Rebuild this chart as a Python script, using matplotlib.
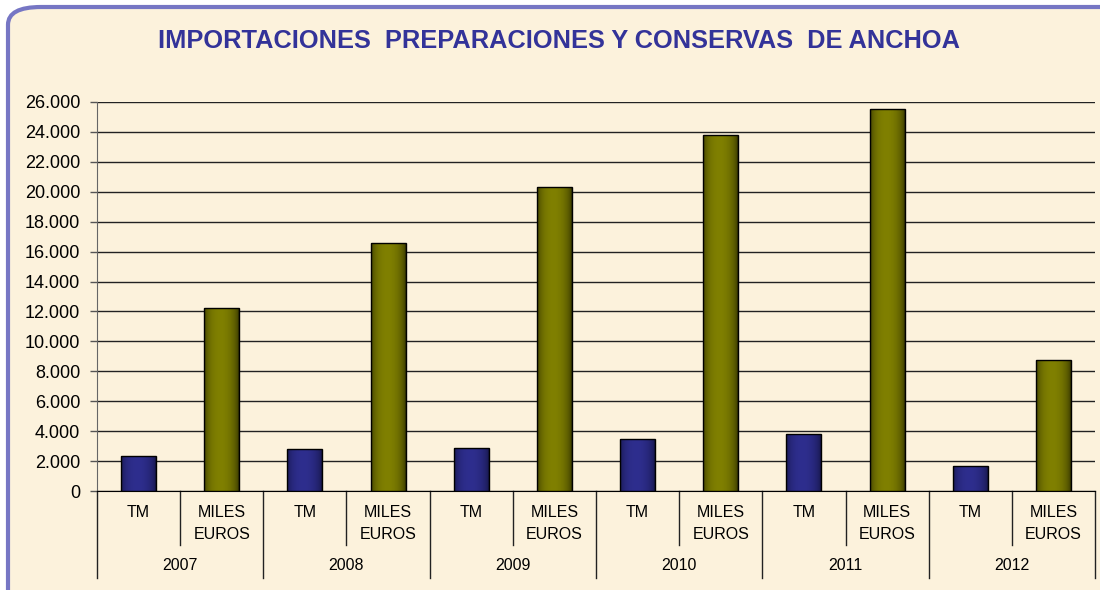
import numpy as np
import matplotlib
matplotlib.use("Agg")
import matplotlib.pyplot as plt
from matplotlib.patches import FancyBboxPatch
from matplotlib.ticker import FuncFormatter, MultipleLocator
import matplotlib.transforms as mtransforms

plt.rcParams['font.family'] = ['Liberation Sans', 'DejaVu Sans']

#### Datos ####

years = ['2007', '2008', '2009', '2010', '2011', '2012']
sub_labels = ['TM', 'MILES\nEUROS']
tm = [2340, 2790, 2870, 3480, 3790, 1700]
miles_euros = [12210, 16600, 20330, 23800, 25520, 8760]

values = []
for a, b in zip(tm, miles_euros):
    values += [a, b]
colors = ['#2e2e8e', '#808000'] * len(years)
edge_dark = {'#2e2e8e': '#12123e', '#808000': '#2a2a00'}

#### Figura ####

fig = plt.figure(figsize=(11, 5.9), dpi=100, facecolor='white')
W, H = 1100, 590

frame = FancyBboxPatch((8 / W, -0.2), 1.2, 0.2 + 1 - 7 / H,
                       boxstyle="round,pad=0,rounding_size=0.03",
                       transform=fig.transFigure, facecolor='#fcf2dc',
                       edgecolor='#7676c4', linewidth=3, zorder=-5)
fig.patches.append(frame)

ax = fig.add_axes([97 / W, 1 - 491 / H, (1095 - 97) / W, 389 / H])
ax.set_facecolor('none')
ax.set_zorder(2)

x = np.arange(len(values))
bars = ax.bar(x, values, width=0.42, color=colors, edgecolor='black',
              linewidth=1.0, zorder=3)

# sombreado tipo cilindro (claro en el centro, oscuro en los bordes)
t = np.linspace(0, 1, 100)
grad = np.clip(np.sin(np.pi * t ** 0.9) ** 0.45, 0, 1)
for bar, c in zip(bars, colors):
    dark = np.array(matplotlib.colors.to_rgb(edge_dark[c]))
    light = np.array(matplotlib.colors.to_rgb(c))
    img = dark[None, :] + (light - dark)[None, :] * grad[:, None]
    img = img[None, :, :]
    bx, bw, bh = bar.get_x(), bar.get_width(), bar.get_height()
    im = ax.imshow(img, extent=(bx, bx + bw, 0, bh), aspect='auto',
                   zorder=3, interpolation='bilinear')
    im.set_clip_path(bar)
    bar.set_facecolor('none')
    bar.set_zorder(4)

ax.set_xlim(-0.5, len(values) - 0.5)
ax.set_ylim(0, 26000)
ax.yaxis.set_major_locator(MultipleLocator(2000))
ax.yaxis.set_major_formatter(FuncFormatter(lambda v, p: f"{int(v):,}".replace(',', '.')))
ax.grid(axis='y', color='#222222', linewidth=1.0, zorder=1)
ax.tick_params(axis='y', labelsize=13, length=5, width=1, color='#555555', pad=7)
ax.tick_params(axis='x', length=0)
ax.set_xticks([])

for s in ['top', 'right']:
    ax.spines[s].set_visible(False)
ax.spines['left'].set_color('#666666')
ax.spines['bottom'].set_color('black')

# eje de categorias en dos niveles
tr = mtransforms.blended_transform_factory(ax.transData, fig.transFigure)
y_axis = 1 - 491 / H
y_inner = 1 - 545 / H
y_outer = 1 - 578 / H
for i in range(len(values) + 1):
    pos = i - 0.5
    y_end = y_outer if i % 2 == 0 else y_inner
    ax.plot([pos, pos], [y_axis, y_end], transform=tr, color='#222222',
            linewidth=1, clip_on=False)
for i in range(len(values)):
    ax.text(i, 1 - 505 / H, sub_labels[i % 2], transform=tr, ha='center',
            va='top', fontsize=11.5, linespacing=1.55)
for j, yr in enumerate(years):
    ax.text(2 * j + 0.5, 1 - 566 / H, yr, transform=tr, ha='center',
            va='center', fontsize=11.5)

fig.text(559 / W, 1 - 41 / H,
         "IMPORTACIONES  PREPARACIONES Y CONSERVAS  DE ANCHOA",
         ha='center', va='center', fontsize=18.3, fontweight='bold',
         color='#333399')

fig.savefig("out.png", dpi=100, facecolor=fig.get_facecolor())
plt.close(fig)
